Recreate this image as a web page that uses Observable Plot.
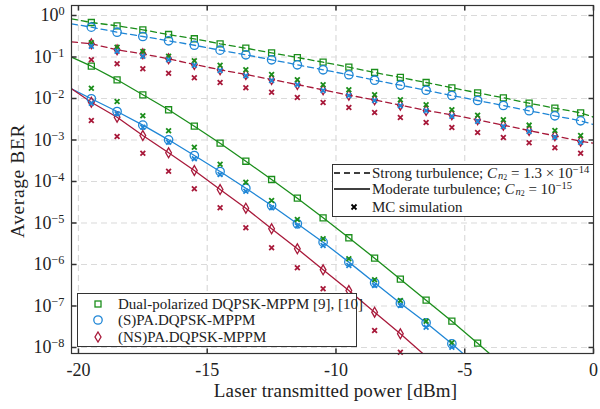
<!DOCTYPE html>
<html><head><meta charset="utf-8">
<script src="https://cdn.jsdelivr.net/npm/d3@7"></script>
<script src="https://cdn.jsdelivr.net/npm/@observablehq/plot@0.6"></script>
<style>
body{margin:0;background:#fff;}
#wrap{position:relative;width:600px;height:409px;font-family:"Liberation Serif",serif;color:#222;}
.leg{position:absolute;background:#fff;border:1px solid #333;box-sizing:border-box;font-size:15px;}
.row{position:absolute;white-space:nowrap;line-height:1;transform:translateY(-50%);}
.sym{position:absolute;transform:translate(-50%,-50%);}
.title{position:absolute;white-space:nowrap;font-size:19px;letter-spacing:0.15px;}
.sb{display:inline-block;font-size:0.7em;line-height:1;transform:translateY(0.15em);margin-left:1px;}
.sb2{display:inline-block;font-size:0.75em;line-height:1;transform:translateY(0.15em);}
.sp{display:inline-block;font-size:0.7em;line-height:1;transform:translateY(-0.45em);}
</style></head><body><div id="wrap"></div>
<script>
// ---------- data ----------
const power = [-19.5,-18.5,-17.5,-16.5,-15.5,-14.5,-13.5,-12.5,-11.5,-10.5,-9.5,-8.5,-7.5,-6.5,-5.5,-4.5,-3.5,-2.5,-1.5,-0.5];
const xTicks = [-20,-15,-10,-5,0];
const yTicks = [1,1e-1,1e-2,1e-3,1e-4,1e-5,1e-6,1e-7,1e-8];
const yTickExp = ["0","-1","-2","-3","-4","-5","-6","-7","-8"];
const xDomain = [-20.27, 0];
const yDomain = [7.16e-9, 1.742];

// strong turbulence, analytical (dashed)
const strongDual = [0.678,0.565,0.452,0.348,0.275,0.208,0.163,0.126,0.097,0.075,0.0568,0.0423,0.0321,0.0243,0.0181,0.0137,0.0104,0.0077,0.00584,0.00452];
const strongS    = [0.523,0.396,0.312,0.246,0.192,0.146,0.113,0.0857,0.0649,0.0492,0.0373,0.0276,0.0209,0.0158,0.0118,0.00895,0.00678,0.00506,0.00383,0.00290];
const strongNS   = [0.208,0.149,0.119,0.0905,0.0660,0.0492,0.0379,0.0287,0.0217,0.0162,0.0120,0.0093,0.0069,0.00514,0.00405,0.00307,0.00228,0.00169,0.00126,0.000935];
const strongEdgeDual = [0.83, 0.00355];
const strongEdgeS    = [0.631, 0.00236];
const strongEdgeNS   = [0.232, 0.000837];

// strong turbulence, MC simulation
const mcStrongDual = [0.220,0.172,0.136,0.1045,0.0810,0.0634,0.0492,0.0379,0.0282,0.0214,0.0162,0.01228,0.00931,0.00705,0.00535,0.00396,0.00307,0.00228,0.00169,0.00128];
const mcStrongS    = [0.182,0.138,0.1045,0.0857,0.0634,0.0473,0.0352,0.0271,0.0214,0.0156,0.0118,0.00895,0.00667,0.00506,0.00374,0.00284,0.00211,0.00160,0.00117,0.000885];
const mcStrongNS   = [0.0857,0.0686,0.0520,0.0407,0.0315,0.0243,0.0181,0.0142,0.01057,0.00801,0.00607,0.00460,0.00348,0.00264,0.00200,0.00152,0.00115,0.000857,0.000649,0.000481];

// moderate turbulence, analytical (solid)
const modDual = [0.0600,0.0282,0.01228,0.00535,0.00215,0.000838,0.000308,0.0001117,3.96e-5,1.334e-5,4.40e-6,1.42e-6,4.43e-7,1.38e-7,4.31e-8,1.27e-8];
const modS    = [0.00984,0.00486,0.00228,0.00101,0.000423,0.000174,6.90e-5,2.64e-5,9.57e-6,3.45e-6,1.14e-6,3.62e-7,1.17e-7,3.94e-8,1.23e-8];
const modNS   = [0.00814,0.00354,0.00128,0.000492,0.000184,6.41e-5,2.27e-5,7.25e-6,2.39e-6,7.44e-7,2.36e-7,7.10e-8,2.14e-8];
const modStart = [0.0989, 0.0171, 0.0171];      // value at left edge
const modEndX  = [-4.04, -5.07, -6.63];          // where curve leaves bottom

// moderate turbulence, MC simulation
const mcModDual = [0.0177,0.00847,0.00383,0.00167,0.000671,0.000261,9.61e-5,3.48e-5,1.21e-5,4.16e-6,1.37e-6,4.27e-7,1.36e-7,4.31e-8,1.30e-8];
const mcModS    = [0.00770,0.00428,0.00203,0.000885,0.000352,0.000148,5.83e-5,2.32e-5,8.57e-6,2.87e-6,9.46e-7,3.12e-7,1.03e-7,3.08e-8,1.02e-8];
const mcModNS   = [0.00295,0.00121,0.000481,0.000177,6.67e-5,2.32e-5,7.66e-6,2.52e-6,8.32e-7,2.59e-7,8.1e-8,2.57e-8,7.7e-9];

const GREEN = "#1b8e1b", BLUE = "#1f86d6", RED = "#a8193a";

// ---------- build ----------
const pts = ys => ys.map((y,i) => ({x: power[i], y}));
const strongLine = (ys, edge) => [{x: xDomain[0], y: edge[0]}, ...pts(ys), {x: xDomain[1], y: edge[1]}];
const modLine = (ys, k) => [{x: xDomain[0], y: modStart[k]}, ...pts(ys), {x: modEndX[k], y: yDomain[0]}];

const tickSym = (dx, dy) => ({draw(ctx){ ctx.moveTo(0,0); ctx.lineTo(dx,dy); }});
const TL = 5;

const series = [
  {theo: strongDual, edge: strongEdgeDual, mc: mcStrongDual, c: GREEN, sym: "square", r: 3.4, dash: "6,4"},
  {theo: strongS, edge: strongEdgeS, mc: mcStrongS, c: BLUE, sym: "circle", r: 4.2, dash: "6,4"},
  {theo: strongNS, edge: strongEdgeNS, mc: mcStrongNS, c: RED, sym: "diamond", r: 3.0, dash: "6,4"},
  {theo: modDual, k: 0, mc: mcModDual, c: GREEN, sym: "square", r: 3.4},
  {theo: modS, k: 1, mc: mcModS, c: BLUE, sym: "circle", r: 4.2},
  {theo: modNS, k: 2, mc: mcModNS, c: RED, sym: "diamond", r: 3.0},
];

const marks = [
  Plot.gridX(xTicks, {stroke: "#dadada", strokeOpacity: 1, strokeDasharray: "6,4", strokeWidth: 1.2}),
  Plot.gridY(yTicks, {stroke: "#dadada", strokeOpacity: 1, strokeDasharray: "6,4", strokeWidth: 1.2}),
];
for (const s of series) {
  const ld = s.edge ? strongLine(s.theo, s.edge) : modLine(s.theo, s.k);
  marks.push(Plot.line(ld, {x: "x", y: "y", stroke: s.c, strokeWidth: 1.3, strokeDasharray: s.dash || null, clip: true}));
}
for (const s of series) {
  marks.push(Plot.dot(pts(s.theo), {x: "x", y: "y", symbol: s.sym, r: s.r, stroke: s.c, fill: "none", strokeWidth: 1.3}));
}
for (const s of series) {
  marks.push(Plot.dot(pts(s.mc), {x: "x", y: "y", symbol: "times", r: 2.3, stroke: s.c, strokeWidth: 1.8}));
}
marks.push(
  Plot.frame({stroke: "#333", strokeWidth: 1.2}),
  Plot.dot(xTicks, {x: d => d, frameAnchor: "bottom", symbol: tickSym(0,-TL), stroke: "#333", fill: "none"}),
  Plot.dot(xTicks, {x: d => d, frameAnchor: "top", symbol: tickSym(0,TL), stroke: "#333", fill: "none"}),
  Plot.dot(yTicks, {y: d => d, frameAnchor: "left", symbol: tickSym(TL,0), stroke: "#333", fill: "none"}),
  Plot.dot(yTicks, {y: d => d, frameAnchor: "right", symbol: tickSym(-TL,0), stroke: "#333", fill: "none"}),
  Plot.axisX(xTicks, {anchor: "bottom", tickSize: 0, tickPadding: 10, tickFormat: d => String(d), fontSize: 18, label: null}),
  Plot.axisY(yTicks, {anchor: "left", tickSize: 0, tickPadding: 7, tickFormat: (d,i) => "10^" + yTickExp[yTicks.indexOf(d)], fontSize: 18, label: null})
);

const svg = Plot.plot({
  width: 600, height: 409,
  marginTop: 5, marginBottom: 56, marginLeft: 71, marginRight: 7,
  style: {fontFamily: '"Liberation Serif", serif', color: "#222", background: "#fff"},
  x: {domain: xDomain},
  y: {type: "log", domain: yDomain},
  marks
});

// superscript exponents
d3.select(svg).selectAll('g[aria-label="y-axis tick label"] text').each(function() {
  const t = this.textContent;
  if (!t.includes("^")) return;
  const [base, e] = t.split("^");
  const el = d3.select(this);
  el.text("");
  el.append("tspan").text(base);
  el.append("tspan").attr("dy", "-0.5em").attr("font-size", "0.68em").text(e.replace("-", "\u2212"));
});

const wrap = document.getElementById("wrap");
wrap.appendChild(svg);
svg.style.position = "absolute"; svg.style.left = "0"; svg.style.top = "0";

// axis titles
const xt = document.createElement("div");
xt.className = "title"; xt.textContent = "Laser transmitted power [dBm]";
xt.style.left = "335.5px"; xt.style.top = "391px"; xt.style.transform = "translate(-50%,-50%)";
wrap.appendChild(xt);
const yt = document.createElement("div");
yt.className = "title"; yt.textContent = "Average BER";
yt.style.fontSize = "19.5px"; yt.style.letterSpacing = "0.6px";
yt.style.left = "18px"; yt.style.top = "181px"; yt.style.transform = "translate(-50%,-50%) rotate(-90deg)";
wrap.appendChild(yt);

// legends
const C = '<i>C</i><span class="sb"><i>n</i><span class="sb2">2</span></span>';
const up = document.createElement("div");
up.className = "leg";
Object.assign(up.style, {left: "332px", top: "164px", width: "262px", height: "53px"});
up.innerHTML = `
<svg class="sym" style="left:19px;top:7.7px" width="38" height="4"><line x1="1" x2="37" y1="2" y2="2" stroke="#000" stroke-width="1.4" stroke-dasharray="6,4"/></svg>
<div class="row" style="left:39px;top:7.7px">Strong turbulence; ${C} = 1.3 × 10<span class="sp">−14</span></div>
<svg class="sym" style="left:19px;top:24.3px" width="38" height="4"><line x1="1" x2="37" y1="2" y2="2" stroke="#000" stroke-width="1.4"/></svg>
<div class="row" style="left:39px;top:24.3px">Moderate turbulence; ${C} = 10<span class="sp">−15</span></div>
<svg class="sym" style="left:21px;top:42px" width="8" height="8"><path d="M1.5,1.5L6.5,6.5M6.5,1.5L1.5,6.5" stroke="#000" stroke-width="1.8"/></svg>
<div class="row" style="left:39px;top:42px">MC simulation</div>`;
wrap.appendChild(up);

const lo = document.createElement("div");
lo.className = "leg";
Object.assign(lo.style, {left: "77px", top: "293px", width: "280px", height: "54px"});
lo.innerHTML = `
<svg class="sym" style="left:19.7px;top:10.3px" width="10" height="10"><rect x="2" y="2" width="6" height="6" fill="none" stroke="${GREEN}" stroke-width="1.3"/></svg>
<div class="row" style="left:40px;top:10.3px">Dual-polarized DQPSK-MPPM [9], [10]</div>
<svg class="sym" style="left:19.7px;top:26px" width="12" height="12"><circle cx="6" cy="6" r="4.2" fill="none" stroke="${BLUE}" stroke-width="1.3"/></svg>
<div class="row" style="left:40px;top:26px">(S)PA.DQPSK-MPPM</div>
<svg class="sym" style="left:19.7px;top:43px" width="10" height="12"><path d="M5,1L8,6L5,11L2,6Z" fill="none" stroke="${RED}" stroke-width="1.3"/></svg>
<div class="row" style="left:40px;top:43px">(NS)PA.DQPSK-MPPM</div>`;
wrap.appendChild(lo);
</script>
</body></html>
